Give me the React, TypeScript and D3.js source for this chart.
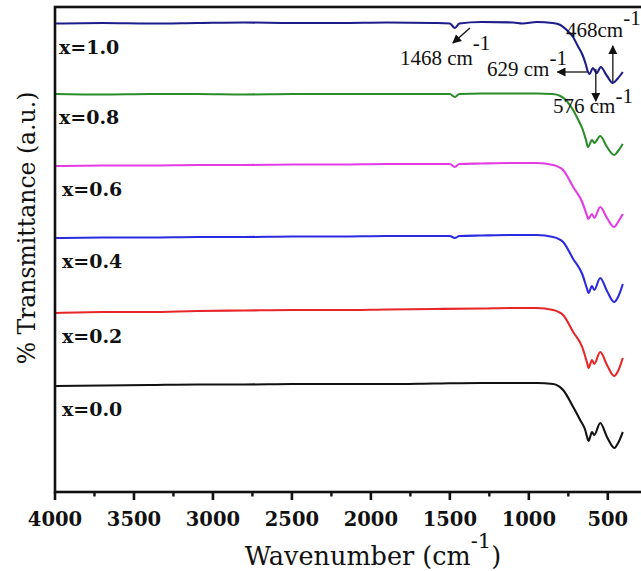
import React from 'react';
import * as d3 from 'd3';

// FTIR spectra, [wavenumber (cm^-1), transmittance (a.u.)]
const seriesX00: [number, number][] = [
  [4000, 22.8], [3700, 22.9], [3400, 23.0], [3100, 23.1], [2800, 23.1], [2500, 23.2],
  [2200, 23.2], [1900, 23.2], [1600, 23.3], [1300, 23.4], [1100, 23.4], [950, 23.4],
  [846, 23.2], [783, 22.0], [719, 18.6], [675, 16.0], [643, 14.0], [631, 12.6],
  [622, 11.8], [600, 13.6], [586, 13.0], [548, 15.4], [505, 12.6], [458, 10.4],
  [435, 11.4], [405, 13.6],
];
const seriesX02: [number, number][] = [
  [4000, 37.4], [3700, 37.6], [3400, 37.6], [3100, 37.8], [2800, 37.9], [2500, 38.0],
  [2200, 38.0], [1900, 38.1], [1600, 38.2], [1300, 38.3], [1100, 38.4], [950, 38.4],
  [846, 38.0], [783, 37.0], [719, 33.6], [662, 30.6], [631, 27.4], [622, 26.4],
  [600, 28.0], [586, 27.2], [548, 29.6], [505, 27.0], [460, 24.8], [435, 25.8],
  [405, 28.4],
];
const seriesX04: [number, number][] = [
  [4000, 52.4], [3700, 52.5], [3400, 52.5], [3100, 52.6], [2800, 52.6], [2500, 52.7],
  [2200, 52.7], [1900, 52.8], [1600, 52.8], [1500, 52.8], [1468, 52.4], [1440, 52.8],
  [1300, 52.9], [1100, 53.0], [950, 53.0], [846, 52.6], [783, 51.6], [719, 48.2],
  [662, 45.2], [631, 42.2], [622, 41.4], [600, 42.8], [586, 42.0], [548, 44.4],
  [505, 41.8], [460, 39.6], [435, 40.6], [405, 43.2],
];
const seriesX06: [number, number][] = [
  [4000, 66.8], [3700, 66.9], [3400, 66.9], [3100, 67.0], [2800, 67.0], [2500, 67.1],
  [2200, 67.1], [1900, 67.2], [1600, 67.2], [1500, 67.2], [1468, 66.6], [1440, 67.2],
  [1300, 67.3], [1100, 67.4], [950, 67.4], [846, 67.0], [783, 66.0], [719, 62.6],
  [662, 59.6], [631, 56.8], [624, 56.2], [600, 57.2], [586, 56.4], [548, 58.6],
  [505, 56.4], [460, 54.6], [435, 55.6], [405, 57.2],
];
const seriesX08: [number, number][] = [
  [4000, 81.2], [3700, 81.1], [3400, 81.2], [3100, 81.2], [2800, 81.1], [2500, 81.2],
  [2200, 81.2], [1900, 81.2], [1600, 81.2], [1500, 81.2], [1468, 80.6], [1440, 81.2],
  [1300, 81.3], [1100, 81.3], [950, 81.3], [850, 81.2], [800, 80.8], [760, 79.8],
  [720, 78.0], [690, 76.2], [660, 74.2], [640, 72.2], [625, 70.6], [600, 72.0],
  [585, 71.4], [548, 72.8], [505, 70.6], [460, 69.0], [435, 69.8], [405, 71.2],
];
const seriesX10: [number, number][] = [
  [4000, 95.3], [3700, 95.4], [3400, 95.3], [3100, 95.4], [2800, 95.5], [2500, 95.4],
  [2200, 95.4], [1900, 95.5], [1600, 95.4], [1500, 95.3], [1468, 94.4], [1440, 95.3],
  [1300, 95.6], [1100, 95.5], [1040, 95.3], [950, 95.6], [850, 95.4], [800, 95.0],
  [760, 94.0], [720, 92.6], [690, 90.8], [660, 89.0], [640, 87.2], [630, 86.0],
  [615, 85.2], [595, 86.4], [570, 85.4], [545, 86.6], [505, 84.8], [468, 83.4],
  [440, 84.2], [405, 85.6],
];

const seriesLabels = ['x=0.0', 'x=0.2', 'x=0.4', 'x=0.6', 'x=0.8', 'x=1.0'];
const seriesData = [seriesX00, seriesX02, seriesX04, seriesX06, seriesX08, seriesX10];
const seriesColors = ['#111111', '#e8262a', '#2a2ae0', '#e43ce4', '#2a8c2a', '#1c1c8a'];

const majorTicks = [4000, 3500, 3000, 2500, 2000, 1500, 1000, 500];
const minorTicks = [3750, 3250, 2750, 2250, 1750, 1250, 750];

const W = 641;
const H = 571;
const left = 55;
const top = 7;
const bottom = 492;
const frameRight = 660;

const x = d3.scaleLinear().domain([4000, 500]).range([left, 607.8]);
const y = d3.scaleLinear().domain([0, 100]).range([500, 0]);

const line = d3
  .line<[number, number]>()
  .x((d) => x(d[0]))
  .y((d) => y(d[1]))
  .curve(d3.curveMonotoneX);

const serif = '"Liberation Serif", "Times New Roman", serif';
const wideSerif = '"DejaVu Serif", serif';

export default function App() {
  // peak markers hang off the x=1.0 spectrum
  const p1468 = x(1468);
  const p629 = x(629);
  const p576 = x(576);
  const p468 = x(468);

  return (
    <svg
      width={W}
      height={H}
      viewBox={`0 0 ${W} ${H}`}
      style={{ position: 'absolute', left: 0, top: 0, background: '#fff' }}
    >
      <defs>
        <marker id="head" viewBox="0 0 10 10" refX="9" refY="5" markerWidth="9" markerHeight="9" markerUnits="userSpaceOnUse" orient="auto">
          <path d="M0,0 L10,5 L0,10 Z" fill="#111" />
        </marker>
      </defs>

      {/* spectra */}
      {seriesData.map((s, i) => (
        <path key={i} d={line(s) || ''} fill="none" stroke={seriesColors[i]} strokeWidth={2.1} strokeLinejoin="round" />
      ))}

      {/* series labels */}
      {seriesData.map((s, i) => (
        <text
          key={'l' + i}
          x={i >= 4 ? 59 : 62}
          y={y(s[0][1]) + 30}
          fontFamily={wideSerif}
          fontWeight="bold"
          fontSize={19}
          fill="#111"
        >
          {seriesLabels[i]}
        </text>
      ))}

      {/* frame */}
      <rect x={left} y={top} width={frameRight - left} height={bottom - top} fill="none" stroke="#111" strokeWidth={2.6} />

      {/* x ticks */}
      {majorTicks.map((t) => (
        <line key={'M' + t} x1={x(t)} x2={x(t)} y1={bottom} y2={bottom + 8} stroke="#111" strokeWidth={2.6} />
      ))}
      {minorTicks.map((t) => (
        <line key={'m' + t} x1={x(t)} x2={x(t)} y1={bottom} y2={bottom + 4.5} stroke="#111" strokeWidth={2.4} />
      ))}
      {majorTicks.map((t) => (
        <text
          key={'t' + t}
          x={x(t)}
          y={526}
          textAnchor="middle"
          fontFamily={wideSerif}
          fontWeight="bold"
          fontSize={19.5}
          fill="#111"
        >
          {t}
        </text>
      ))}

      {/* axis titles */}
      <text x={373} y={565} textAnchor="middle" fontFamily={wideSerif} fontSize={25.5} fill="#111">
        Wavenumber (cm<tspan dy={-17} fontSize={21}>-1</tspan>
        <tspan dy={17}>)</tspan>
      </text>
      <text
        transform="translate(35,228) rotate(-90)"
        textAnchor="middle"
        fontFamily={wideSerif}
        fontSize={23.5}
        fill="#111"
      >
        % Transmittance (a.u.)
      </text>

      {/* peak annotations */}
      <line x1={p1468 + 15} y1={28} x2={p1468 - 2} y2={43} stroke="#111" strokeWidth={1.3} markerEnd="url(#head)" />
      <text x={p1468 - 55} y={65} fontFamily={serif} fontSize={21} fill="#111">
        1468 cm<tspan dy={-15}>-1</tspan>
      </text>

      <line x1={p629} y1={72} x2={p629 - 30} y2={72} stroke="#111" strokeWidth={1.3} markerEnd="url(#head)" />
      <text x={487} y={76} fontFamily={serif} fontSize={21} fill="#111">
        629 cm<tspan dy={-11}>-1</tspan>
      </text>

      <line x1={p468} y1={82} x2={p468} y2={46} stroke="#111" strokeWidth={1.3} markerEnd="url(#head)" />
      <text x={566} y={37} fontFamily={serif} fontSize={21} fill="#111">
        468cm<tspan dy={-12}>-1</tspan>
      </text>

      <line x1={p576} y1={69} x2={p576} y2={101} stroke="#111" strokeWidth={1.3} markerEnd="url(#head)" />
      <text x={553} y={113} fontFamily={serif} fontSize={21} fill="#111">
        576 cm<tspan dy={-10}>-1</tspan>
      </text>
    </svg>
  );
}
